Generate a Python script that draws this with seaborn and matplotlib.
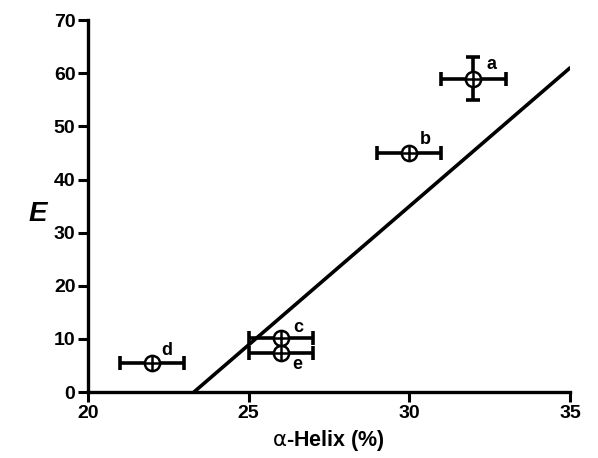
import matplotlib
matplotlib.use("Agg")
import matplotlib.pyplot as plt
import seaborn as sns
import pandas as pd

# Data
labels = ["a", "b", "c", "e", "d"]
helix = [32, 30, 26, 26, 22]
E_vals = [59, 45, 10.2, 7.4, 5.5]
helix_err = [1, 1, 1, 1, 1]
E_err = [4, 0, 0, 0, 0]
fit_x = [23.3, 35]
fit_y = [0, 61]
label_dx = [0.55, 0.5, 0.55, 0.5, 0.45]
label_dy = [2.6, 2.6, 2.0, -2.3, 2.4]

sns.set_style("ticks")
plt.rcParams['font.family'] = ['Liberation Sans', 'DejaVu Sans']
plt.rcParams['mathtext.fontset'] = 'dejavusans'
for k in ["text.color", "axes.labelcolor", "xtick.color", "ytick.color", "axes.edgecolor"]:
    plt.rcParams[k] = "black"

fig = plt.figure(figsize=(5.98, 4.58), dpi=100)
ax = fig.add_axes([0.147, 0.144, 0.806, 0.812])

df = pd.DataFrame({"x": helix, "y": E_vals})
fit = pd.DataFrame({"x": fit_x, "y": fit_y})

sns.lineplot(data=fit, x="x", y="y", ax=ax, color="black", lw=2.6, zorder=2)

ax.errorbar(helix, E_vals, xerr=helix_err, yerr=E_err, fmt="none", ecolor="black",
            elinewidth=2.6, capsize=5, capthick=2.6, zorder=3)
sns.scatterplot(data=df, x="x", y="y", ax=ax, marker="o", s=120, facecolor="white",
                edgecolor="black", linewidth=1.8, zorder=4)
ax.plot(df["x"], df["y"], ls="none", marker="+", ms=10, mew=1.8, color="black", zorder=5)

for lab, x, y, dx, dy in zip(labels, helix, E_vals, label_dx, label_dy):
    ax.text(x + dx, y + dy, lab, fontsize=13, fontweight="bold", ha="center", va="center")

ax.set_xlim(20, 35)
ax.set_ylim(0, 70)
ax.set_xticks([20, 25, 30, 35])
ax.set_yticks(range(0, 71, 10))
for lbl in ax.get_xticklabels() + ax.get_yticklabels():
    lbl.set_fontweight("bold")
    lbl.set_fontsize(14)
ax.tick_params(width=2.2, length=7, direction="out", pad=2)
for s in ["left", "bottom"]:
    ax.spines[s].set_linewidth(2.4)
sns.despine(ax=ax)

ax.set_xlabel(r"$\mathrm{\alpha}$" + "-Helix (%)", fontsize=15.5, fontweight="bold", labelpad=5)
ax.set_ylabel("E", fontsize=20, fontweight="bold", fontstyle="italic", rotation=0,
              va="center", ha="center")
ax.yaxis.set_label_coords(-0.105, 0.48)

fig.savefig("out.png", dpi=100)
